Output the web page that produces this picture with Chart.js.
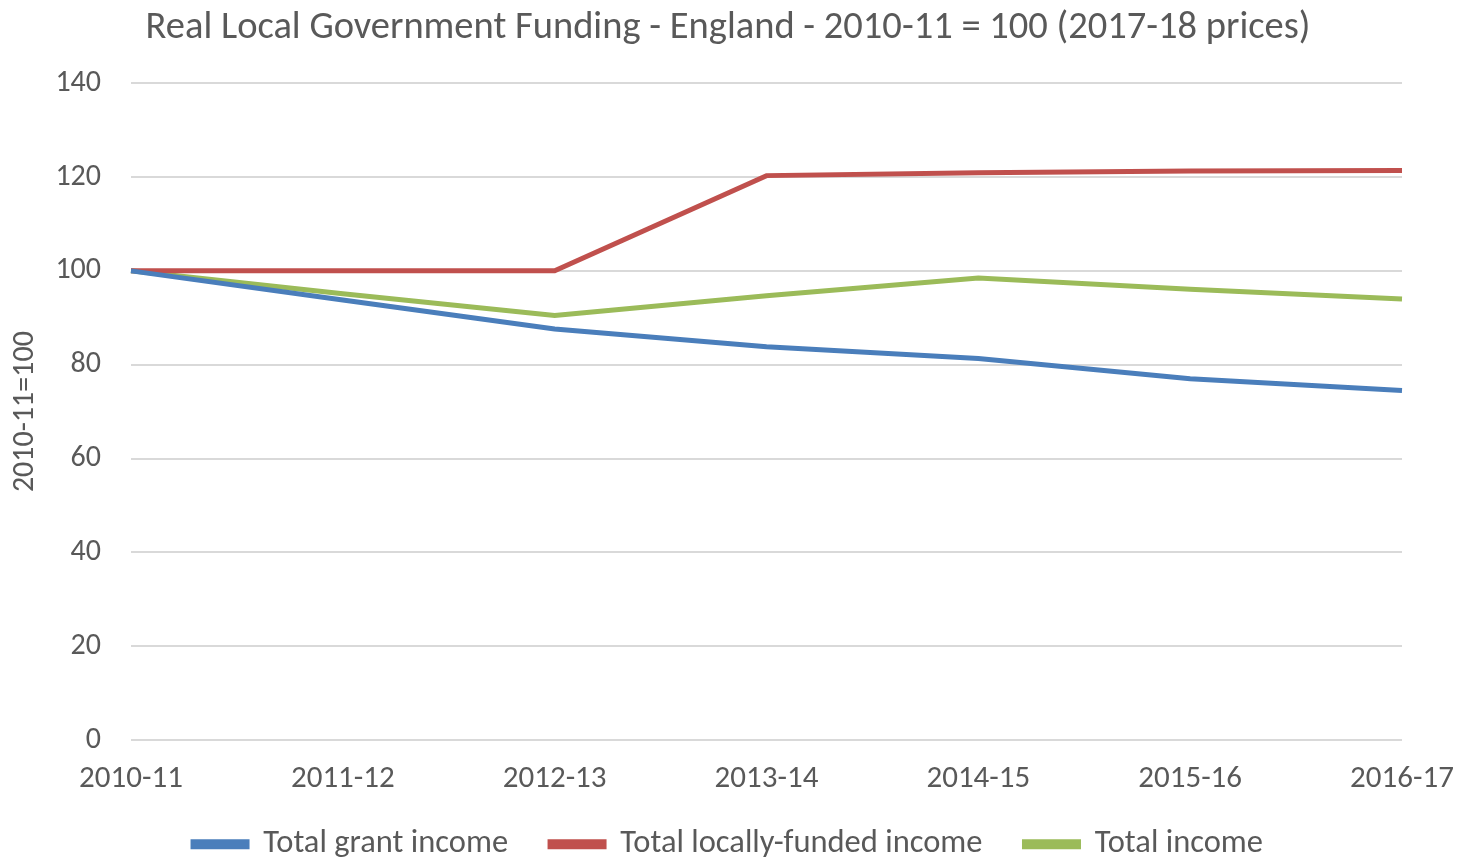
<!DOCTYPE html>
<html>
<head>
<meta charset="utf-8">
<script src="https://cdn.jsdelivr.net/npm/chart.js@4/dist/chart.umd.min.js"></script>
<style>
html,body{margin:0;padding:0;background:#fff;}
#wrap{width:1464px;height:858px;position:relative;}
</style>
</head>
<body>
<div id="wrap"><canvas id="c" width="1464" height="858"></canvas></div>
<script>
const categories = ["2010-11","2011-12","2012-13","2013-14","2014-15","2015-16","2016-17"];
const grantIncome = [100, 93.8, 87.6, 83.8, 81.3, 77.0, 74.5];
const localIncome = [100, 100, 100, 120.3, 120.9, 121.3, 121.4];
const totalIncome = [100, 95.1, 90.5, 94.7, 98.5, 96.1, 94.0];
const yTicks = [0, 20, 40, 60, 80, 100, 120, 140];

const FONT = 'Carlito, "Liberation Sans", sans-serif';
const TXT = '#595959';

// Keep the legend compact vertically while using wide horizontal spacing between items
const legendFix = {
  id: 'legendFix',
  afterInit(chart) {
    const lg = chart.legend;
    if (!lg) return;
    const origFit = lg.fit.bind(lg);
    lg.fit = function () { origFit(); this.height = 60; };
    const origDraw = lg.draw.bind(lg);
    lg.draw = function (...a) {
      const t = this.top;
      this.top = t - 12;
      origDraw(...a);
      this.top = t;
    };
  }
};

new Chart(document.getElementById('c'), {
  type: 'line',
  data: {
    labels: categories,
    datasets: [
      {label: 'Total grant income', data: grantIncome, borderColor: '#4A7EBB', backgroundColor: '#4A7EBB', borderWidth: 5, pointRadius: 0, tension: 0},
      {label: 'Total locally-funded income', data: localIncome, borderColor: '#C0504D', backgroundColor: '#C0504D', borderWidth: 5, pointRadius: 0, tension: 0},
      {label: 'Total income', data: totalIncome, borderColor: '#9BBB59', backgroundColor: '#9BBB59', borderWidth: 5, pointRadius: 0, tension: 0}
    ]
  },
  plugins: [legendFix],
  options: {
    responsive: false,
    animation: false,
    layout: {padding: {left: 54, right: 62, top: 0, bottom: 0}},
    plugins: {
      title: {display: true, text: 'Real Local Government Funding - England - 2010-11 = 100 (2017-18 prices)', color: TXT, font: {family: FONT, size: 38.5, weight: 'normal'}, padding: {top: 5, bottom: 32}},
      legend: {position: 'bottom', labels: {color: TXT, font: {family: FONT, size: 32.5}, boxWidth: 54, boxHeight: 5, padding: 42}},
      tooltip: {enabled: false}
    },
    scales: {
      x: {
        offset: false,
        afterFit: (s) => { s.height = 58; s.paddingLeft = 0; s.paddingRight = 0; },
        grid: {display: false, drawTicks: false},
        border: {display: false},
        ticks: {color: TXT, font: {family: FONT, size: 31}, padding: 21, maxRotation: 0, autoSkip: false}
      },
      y: {
        min: 0, max: 140,
        afterBuildTicks: (s) => { s.ticks = yTicks.map(v => ({value: v})); },
        afterFit: (s) => { s.width = 77; },
        grid: {color: '#D9D9D9', lineWidth: 2, drawTicks: false},
        border: {display: false},
        ticks: {color: TXT, font: {family: FONT, size: 30}, padding: 30},
        title: {display: true, text: '2010-11=100', color: TXT, font: {family: FONT, size: 30}, padding: {top: -47, bottom: 0}}
      }
    }
  }
});
</script>
</body>
</html>
